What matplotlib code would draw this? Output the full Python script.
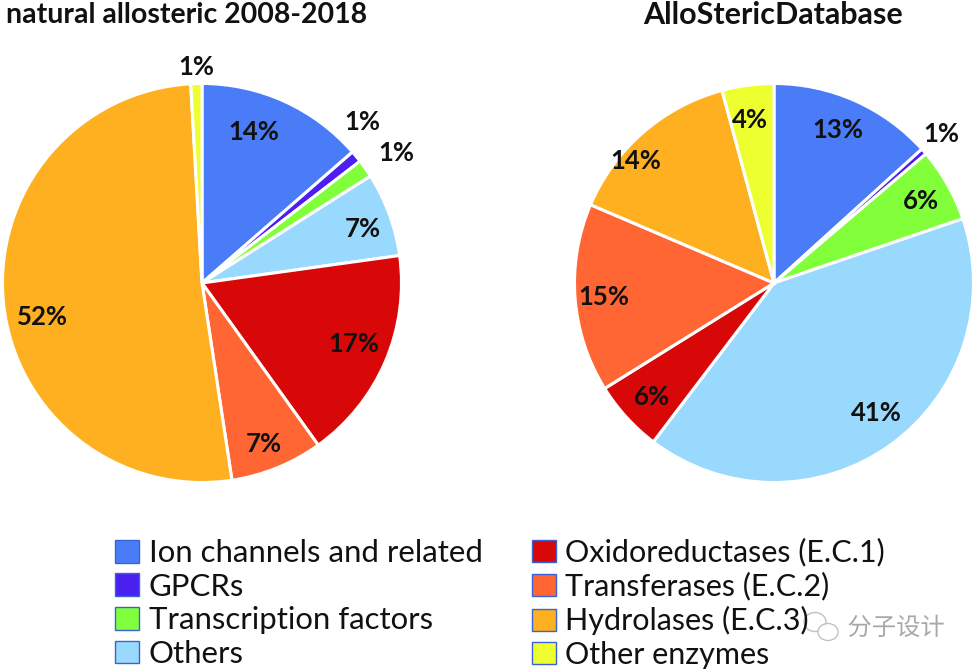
import matplotlib
matplotlib.use("Agg")
import matplotlib.pyplot as plt
import matplotlib.patheffects as pe
from matplotlib.patches import Patch, Ellipse

plt.rcParams['font.family'] = ['Lato', 'DejaVu Sans']

categorias_esq = ['Ion channels and related', 'GPCRs', 'Transcription factors', 'Others']
categorias_dir = ['Oxidoreductases (E.C.1)', 'Transferases (E.C.2)', 'Hydrolases (E.C.3)', 'Other enzymes']
cores = ['#4a7cf7', '#4a1ff0', '#80ff3a', '#99d9fd', '#d90808', '#ff6633', '#ffb020', '#eeff30']

# valores (%)
natural = [13.6, 0.95, 1.45, 6.8, 17.3, 7.5, 51.5, 0.9]
asd = [13.3, 0.5, 6.0, 40.6, 5.8, 15.3, 14.4, 4.2]
rotulos_natural = ['14%', '1%', '1%', '7%', '17%', '7%', '52%', '1%']
rotulos_asd = ['13%', '1%', '6%', '41%', '6%', '15%', '14%', '4%']

# posicao dos rotulos em pixels da imagem
pos_natural = [(254, 132), (362, 122), (396, 153), (363, 229), (354, 344), (264, 444), (42, 317), (196, 67)]
pos_asd = [(838, 130), (941, 134), (921, 201), (876, 413), (652, 397), (604, 297), (636, 161), (750, 120)]

L, A = 975, 671
fig = plt.figure(figsize=(L / 100, A / 100), dpi=100)
ax = fig.add_axes([0, 0, 1, 1])


def desenha_pizza(valores, rotulos, posicoes, cx):
    ax.pie(valores, colors=cores, startangle=90, counterclock=False, normalize=True,
           center=(cx, A - 283), radius=199.5,
           wedgeprops={'edgecolor': 'white', 'linewidth': 2.2})
    for r, (x, y) in zip(rotulos, posicoes):
        ax.text(x, A - y, r, ha='center', va='center', fontsize=18.5, fontweight='bold', color='#111111')


desenha_pizza(natural, rotulos_natural, pos_natural, 202)
desenha_pizza(asd, rotulos_asd, pos_asd, 774)

ax.set_xlim(0, L)
ax.set_ylim(0, A)
ax.set_aspect('equal')
ax.axis('off')

ax.text(187, A - 15, 'natural allosteric 2008-2018', ha='center', va='center',
        fontsize=20.5, fontweight='bold', color='#111111')
ax.text(773, A - 15, 'AlloStericDatabase', ha='center', va='center',
        fontsize=22, fontweight='bold', color='#111111')


def legenda(nomes, cores_leg, x0, y0, tam):
    alcas = [Patch(facecolor=c, edgecolor='#3a62d8', linewidth=1) for c in cores_leg]
    leg = fig.legend(alcas, nomes, loc='upper left', bbox_to_anchor=(x0 / L, 1 - y0 / A),
                     bbox_transform=fig.transFigure, frameon=False, fontsize=tam,
                     handlelength=0.78, handleheight=0.75, handletextpad=0.3,
                     labelspacing=0.18, borderpad=0, borderaxespad=0)
    for t in leg.get_texts():
        t.set_color('#111111')
    return leg


legenda(categorias_esq, cores[:4], 115, 539, 22.4)
legenda(categorias_dir, cores[4:], 532, 538, 22)

# marca d'agua
ax.add_patch(Ellipse((815, A - 622), 22, 19, fc='white', ec='#bbbbbb', lw=1, alpha=0.9, zorder=5))
ax.add_patch(Ellipse((828, A - 632), 20, 17, fc='white', ec='#bbbbbb', lw=1, alpha=0.9, zorder=5))
ax.text(896, A - 628, '分子设计', ha='center', va='center', fontsize=17.5,
        family=['Noto Sans CJK SC', 'DejaVu Sans'], color='#a8a8a8', zorder=6,
        path_effects=[pe.withStroke(linewidth=2, foreground='white')])

fig.savefig('out.png', dpi=100)
